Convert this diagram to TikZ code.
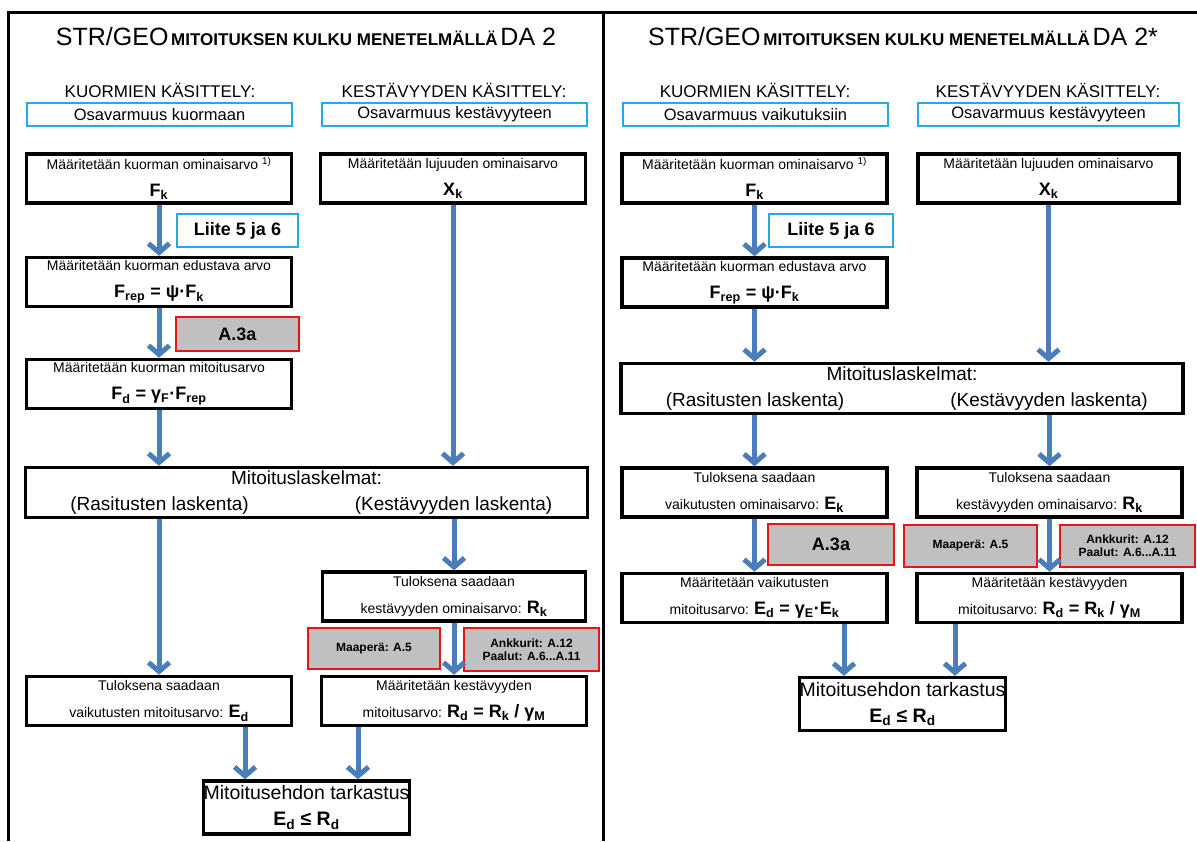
\documentclass[tikz,border=0pt]{standalone}
\usepackage{fontspec}
\setmainfont{Liberation Sans}
\usetikzlibrary{arrows.meta,calc,positioning}
\definecolor{flowblue}{RGB}{74,126,187}
\definecolor{partcyan}{RGB}{38,170,226}
\definecolor{refred}{RGB}{232,20,20}
\definecolor{refgray}{RGB}{192,192,192}
\newcommand\fml[1]{{\fontsize{18}{27}\selectfont\bfseries #1}}
\newcommand\bigtitle[1]{{\fontsize{25}{28}\selectfont #1}}
\tikzset{x=1pt,y=-1pt}

\begin{document}
\begin{tikzpicture}[
    procbox/.style={draw,line width=3.5pt,minimum width=265pt,minimum height=49pt,
        inner sep=0pt,align=center,font=\fontsize{14}{27}\selectfont},
    partbox/.style={draw=partcyan,line width=2pt,minimum width=265pt,minimum height=23pt,
        inner sep=0pt,font=\fontsize{16.5}{20}\selectfont},
    annexbox/.style={draw=partcyan,line width=2pt,fill=white,inner sep=0pt,
        font=\bfseries\fontsize{18}{20}\selectfont},
    refbox/.style={draw=refred,fill=refgray,line width=2pt,inner sep=0pt,align=center,
        font=\bfseries\fontsize{18}{20}\selectfont},
    smallref/.style={refbox,font=\bfseries\fontsize{12}{13}\selectfont},
    head/.style={font=\fontsize{17}{20}\selectfont},
    calcbox/.style={procbox,minimum width=560pt,minimum height=50pt,font=\fontsize{19}{26}\selectfont},
    checkbox/.style={procbox,minimum width=204pt,minimum height=53pt,font=\fontsize{19.5}{26}\selectfont},
    frame/.style={line width=3pt},
    flow/.style={color=flowblue,line width=5pt,-{Straight Barb[length=9pt,width=21pt]}}
]
\useasboundingbox (0,0) rectangle (1197,841);
\draw[frame] (8,841) -- (8,12) -- (1197,12);
\draw[frame] (603,12) -- (603,841);

% DA 2
\node (titleL) at (306,37) {\bigtitle{STR/GEO} {\bfseries\fontsize{17}{20}\selectfont MITOITUKSEN KULKU MENETELMÄLLÄ} \bigtitle{DA 2}};
\node[head] (kuoL) at (160,90) {KUORMIEN KÄSITTELY:};
\node[head] (kesL) at (454,90) {KESTÄVYYDEN KÄSITTELY:};
\node[partbox] (osaLa) at (159.5,114.5) {Osavarmuus kuormaan};
\node[partbox] (osaLb) at (454.5,114.5) {Osavarmuus kestävyyteen};
\node[procbox] (fkL) at (159,178.5) {Määritetään kuorman ominaisarvo \textsuperscript{1)}\\\fml{F\textsubscript{k}}};
\node[procbox] (xkL) at (453,178.5) {Määritetään lujuuden ominaisarvo\\\fml{X\textsubscript{k}}};
\node[annexbox,minimum width=121pt,minimum height=33pt] (liiteL) at (237.5,230.5) {Liite 5 ja 6};
\node[procbox] (frepL) at (159,282) {Määritetään kuorman edustava arvo\\\fml{F\textsubscript{rep} = ψ·F\textsubscript{k}}};
\node[refbox,minimum width=123pt,minimum height=34pt] (a3aL) at (237.5,334) {A.3a};
\node[procbox] (fdL) at (159,384) {Määritetään kuorman mitoitusarvo\\\fml{F\textsubscript{d} = γ\textsubscript{F}·F\textsubscript{rep}}};
\node[calcbox] (laskL) at (306.5,492.5) {Mitoituslaskelmat:\\\makebox[268pt]{(Rasitusten laskenta)}\hspace{26pt}\makebox[268pt]{(Kestävyyden laskenta)}};
\node[procbox,minimum width=263pt] (rkL) at (454,596.5) {Tuloksena saadaan\\kestävyyden ominaisarvo: \fml{R\textsubscript{k}}};
\node[smallref,minimum width=132pt,minimum height=41pt] (maaL) at (374,648.5) {Maaperä: A.5};
\node[smallref,minimum width=135pt,minimum height=43pt] (ankL) at (531.5,649.5) {Ankkurit: A.12\\Paalut: A.6...A.11};
\node[procbox] (edL) at (159,701) {Tuloksena saadaan\\vaikutusten mitoitusarvo: \fml{E\textsubscript{d}}};
\node[procbox] (rdL) at (454,701) {Määritetään kestävyyden\\mitoitusarvo: \fml{R\textsubscript{d} = R\textsubscript{k} / γ\textsubscript{M}}};
\node[checkbox] (finL) at (306.5,807.5) {Mitoitusehdon tarkastus\\\textbf{E\textsubscript{d} ≤ R\textsubscript{d}}};

\coordinate (edLout) at ([xshift=86pt]edL.south);
\coordinate (rdLout) at ([xshift=-96pt]rdL.south);
\path[flow]
    (fkL) edge (frepL)
    (frepL) edge (fdL)
    (fdL.south) edge (fdL.south |- laskL.north)
    (xkL.south) edge (xkL.south |- laskL.north)
    (edL.north |- laskL.south) edge (edL.north)
    (rkL.north |- laskL.south) edge (rkL.north)
    (rkL) edge (rdL)
    (edLout) edge (edLout |- finL.north)
    (rdLout) edge (rdLout |- finL.north);

% DA 2*
\node (titleR) at (903,37) {\bigtitle{STR/GEO} {\bfseries\fontsize{17}{20}\selectfont MITOITUKSEN KULKU MENETELMÄLLÄ} \bigtitle{DA 2*}};
\node[head] (kuoR) at (755,90) {KUORMIEN KÄSITTELY:};
\node[head] (kesR) at (1048,90) {KESTÄVYYDEN KÄSITTELY:};
\node[partbox] (osaRa) at (755.5,114.5) {Osavarmuus vaikutuksiin};
\node[partbox,minimum width=261pt] (osaRb) at (1048.5,114.5) {Osavarmuus kestävyyteen};
\node[procbox] (fkR) at (754.5,178.5) {Määritetään kuorman ominaisarvo \textsuperscript{1)}\\\fml{F\textsubscript{k}}};
\node[procbox,minimum width=261pt] (xkR) at (1048.5,178.5) {Määritetään lujuuden ominaisarvo\\\fml{X\textsubscript{k}}};
\node[annexbox,minimum width=124pt,minimum height=33pt] (liiteR) at (831,230.5) {Liite 5 ja 6};
\node[procbox] (frepR) at (754.5,282.5) {Määritetään kuorman edustava arvo\\\fml{F\textsubscript{rep} = ψ·F\textsubscript{k}}};
\node[calcbox] (laskR) at (902,388.5) {Mitoituslaskelmat:\\\makebox[268pt]{(Rasitusten laskenta)}\hspace{26pt}\makebox[268pt]{(Kestävyyden laskenta)}};
\node[procbox] (ekR) at (754.5,492.5) {Tuloksena saadaan\\vaikutusten ominaisarvo: \fml{E\textsubscript{k}}};
\node[procbox] (rkR) at (1049.5,492.5) {Tuloksena saadaan\\kestävyyden ominaisarvo: \fml{R\textsubscript{k}}};
\node[refbox,minimum width=126pt,minimum height=41pt] (a3aR) at (831,544.5) {A.3a};
\node[smallref,minimum width=133pt,minimum height=42pt] (maaR) at (970.5,546) {Maaperä: A.5};
\node[smallref,minimum width=135pt,minimum height=42pt] (ankR) at (1127.5,546) {Ankkurit: A.12\\Paalut: A.6...A.11};
\node[procbox] (edR) at (754.5,598) {Määritetään vaikutusten\\mitoitusarvo: \fml{E\textsubscript{d} = γ\textsubscript{E}·E\textsubscript{k}}};
\node[procbox] (rdR) at (1049.5,598) {Määritetään kestävyyden\\mitoitusarvo: \fml{R\textsubscript{d} = R\textsubscript{k} / γ\textsubscript{M}}};
\node[checkbox] (finR) at (902.5,704) {Mitoitusehdon tarkastus\\\textbf{E\textsubscript{d} ≤ R\textsubscript{d}}};

\coordinate (edRout) at ([xshift=89.5pt]edR.south);
\coordinate (rdRout) at ([xshift=-94.5pt]rdR.south);
\path[flow]
    (fkR) edge (frepR)
    (frepR.south) edge (frepR.south |- laskR.north)
    (xkR.south) edge (xkR.south |- laskR.north)
    (ekR.north |- laskR.south) edge (ekR.north)
    (rkR.north |- laskR.south) edge (rkR.north)
    (ekR) edge (edR)
    (rkR) edge (rdR)
    (edRout) edge (edRout |- finR.north)
    (rdRout) edge (rdRout |- finR.north);
\end{tikzpicture}
\end{document}
